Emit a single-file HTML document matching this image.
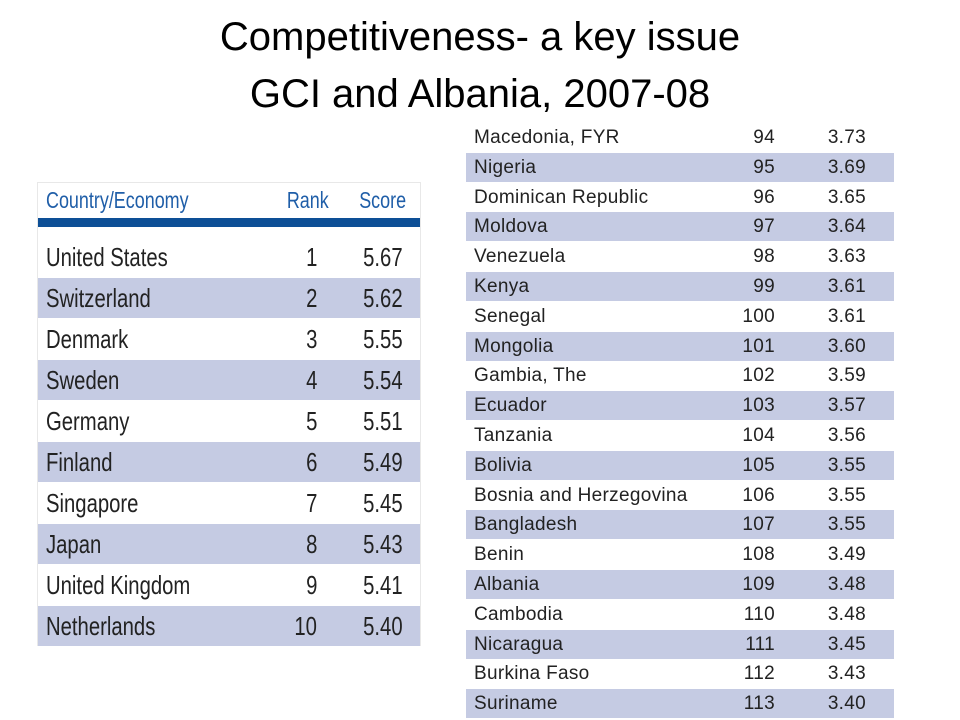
<!DOCTYPE html>
<html><head><meta charset="utf-8">
<style>
body{margin:0;width:960px;height:720px;background:#fff;position:relative;overflow:hidden;font-family:"Liberation Sans",Arial,sans-serif}
.title{position:absolute;left:0;width:960px;text-align:center;font-size:40px;color:#000;line-height:57px;top:9px}
.lt{position:absolute;left:37px;top:182px;width:384px;height:464px;background:#fff;border:1px solid #e8e8e8;box-sizing:border-box}
.row{position:absolute;left:0;right:0}
.cell{position:absolute;top:0;white-space:nowrap}
.lf{color:#222}
.lf .cell{transform:scaleX(0.78)}
.lf .cl{transform-origin:left center}
.lf .cr{transform-origin:right center}
.rf{color:#222;font-size:19px;letter-spacing:0.3px}
</style></head><body>
<div class="title">Competitiveness- a key issue<br>GCI and Albania, 2007-08</div>
<div class="lt" id="lt">
  <div class="row lf" style="top:2px;height:34px;color:#1f5ea8;font-size:23px">
    <span class="cell cl" style="left:8px;top:2px">Country/Economy</span>
    <span class="cell cr" style="right:91px;top:2px">Rank</span>
    <span class="cell cr" style="right:14px;top:2px">Score</span>
  </div>
  <div style="position:absolute;left:0;right:0;top:35px;height:9px;background:#0d4f96"></div>
</div>
<div id="rt" style="position:absolute;left:466px;top:123px;width:428px;height:596px"></div>
<script>
const leftCountries=["United States","Switzerland","Denmark","Sweden","Germany","Finland","Singapore","Japan","United Kingdom","Netherlands"];
const leftRanks=[1,2,3,4,5,6,7,8,9,10];
const leftScores=["5.67","5.62","5.55","5.54","5.51","5.49","5.45","5.43","5.41","5.40"];
const rightCountries=["Macedonia, FYR","Nigeria","Dominican Republic","Moldova","Venezuela","Kenya","Senegal","Mongolia","Gambia, The","Ecuador","Tanzania","Bolivia","Bosnia and Herzegovina","Bangladesh","Benin","Albania","Cambodia","Nicaragua","Burkina Faso","Suriname"];
const rightRanks=[94,95,96,97,98,99,100,101,102,103,104,105,106,107,108,109,110,111,112,113];
const rightScores=["3.73","3.69","3.65","3.64","3.63","3.61","3.61","3.60","3.59","3.57","3.56","3.55","3.55","3.55","3.49","3.48","3.48","3.45","3.43","3.40"];
const shade="#c5cbe3";
function cell(parent,txt,cls,style,name){const s=document.createElement('span');s.className='cell '+cls;s.textContent=txt;s.setAttribute('style',style);


parent.appendChild(s);}
const lt=document.getElementById('lt');
leftCountries.forEach((c,i)=>{const r=document.createElement('div');r.className='row lf';


r.style.top=(54+i*41)+'px';r.style.height='40px';r.style.fontSize='26px';r.style.lineHeight='40px';
if(i%2==1)r.style.background=shade;
cell(r,c,'cl','left:8px','country-name');cell(r,leftRanks[i],'cr','right:103px','rank');cell(r,leftScores[i],'cr','right:17px','score');lt.appendChild(r);});
const rt=document.getElementById('rt');
rightCountries.forEach((c,i)=>{const r=document.createElement('div');r.className='row rf';


r.style.top=(i*29.8)+'px';r.style.height='29px';r.style.lineHeight='29px';
if(i%2==1)r.style.background=shade;
cell(r,c,'','left:8px','country-name');cell(r,rightRanks[i],'','right:119px','rank');cell(r,rightScores[i],'','right:28px','score');rt.appendChild(r);});
</script>
</body></html>
